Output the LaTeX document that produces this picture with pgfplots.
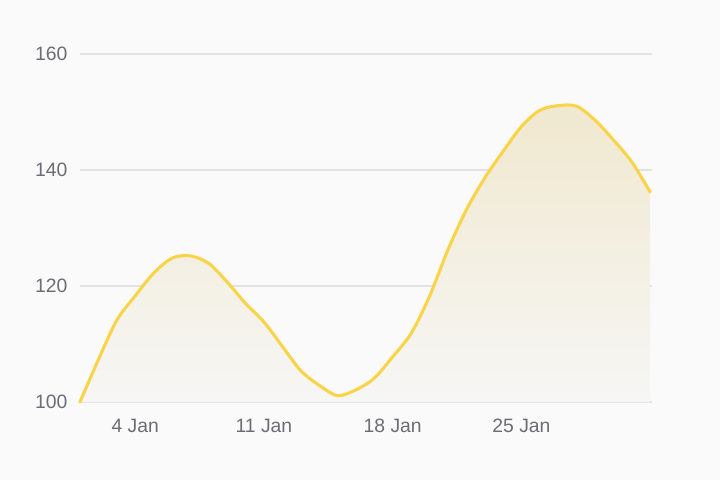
\documentclass[border=0pt]{standalone}
\usepackage{fontspec}
\setmainfont{Liberation Sans}
\usepackage{pgfplots}
\pgfplotsset{compat=1.18}

\definecolor{bg}{RGB}{250,250,250}
\definecolor{gridc}{RGB}{226,226,228}
\definecolor{tickc}{RGB}{108,108,118}
\definecolor{linec}{RGB}{250,212,72}
\definecolor{filltop}{RGB}{240,232,207}
\definecolor{fillmid}{RGB}{234,232,227}
\definecolor{fillbot}{RGB}{246,246,245}

\pgfplotstableread{
day value
1 100
2 107.3
3 114.1
4 118.3
5 122.2
6 124.8
7 125.2
8 123.9
9 120.7
10 117.0
11 113.8
12 109.6
13 105.4
14 102.9
15 101.1
16 102.1
17 104.1
18 107.8
19 111.8
20 118.2
21 126.2
22 133.1
23 138.6
24 143.2
25 147.5
26 150.3
27 151.1
28 151.0
29 148.6
30 145.2
31 141.4
32 136.2
}\sales

\begin{document}
\begin{tikzpicture}
\fill[bg] (-60pt,-58.5pt) rectangle (480pt,301.5pt);
\begin{axis}[
  scale only axis,
  width=429pt, height=261pt,
  xmin=1, xmax=32.1,
  ymin=100, ymax=160,
  axis line style={draw=none},
  tick style={draw=none},
  ytick={100,120,140,160},
  xtick={4,11,18,25},
  xticklabels={4 Jan,11 Jan,18 Jan,25 Jan},
  ymajorgrids,
  grid style={gridc, line width=1.1pt},
  tick label style={font=\fontsize{14.5}{16}\selectfont, text=tickc},
  /pgf/number format/assume math mode=true,
  yticklabel style={xshift=-6pt},
  xticklabel style={yshift=-9.5pt},
  clip=false,
]
\addplot[draw=none, shade, top color=filltop, middle color=fillmid, bottom color=fillbot, smooth, tension=0.5]
  table[x=day, y=value] {\sales} \closedcycle;
\addplot[linec, line width=2.3pt, smooth, tension=0.5, line join=round, line cap=round]
  table[x=day, y=value] {\sales};
\end{axis}
\end{tikzpicture}
\end{document}
